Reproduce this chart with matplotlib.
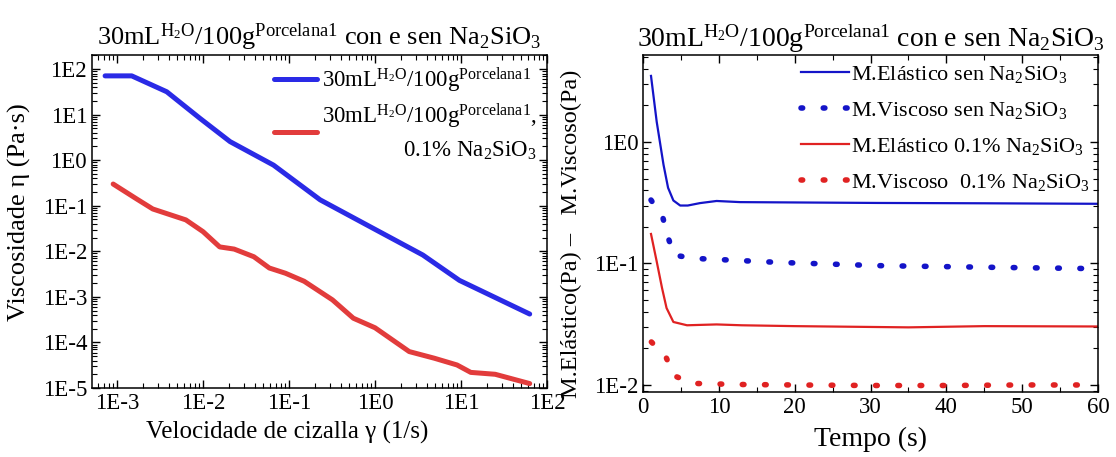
import numpy as np
import matplotlib
matplotlib.use("Agg")
import matplotlib.pyplot as plt
from matplotlib.ticker import LogLocator, FuncFormatter, MultipleLocator, NullFormatter

# left panel: viscosity vs shear rate
shear_sen = [7.25e-4, 1.48e-3, 3.78e-3, 9.2e-3, 2.06e-2, 6.6e-2, 0.23, 0.95, 3.6, 9.6, 63]
visc_sen = [71, 71, 31.8, 8.3, 2.56, 0.78, 0.135, 0.032, 0.0083, 0.0023, 4.2e-4]

shear_na = [9e-4, 1.7e-3, 2.6e-3, 6.3e-3, 1.0e-2, 1.56e-2, 2.3e-2, 3.9e-2, 5.9e-2, 9.1e-2,
            0.15, 0.32, 0.56, 1.0, 2.5, 4.9, 9.0, 13, 25, 63]
visc_na = [0.30, 0.14, 0.085, 0.049, 0.027, 0.0125, 0.0112, 0.0076, 0.0043, 0.0033,
           0.0022, 8.6e-4, 3.4e-4, 2.1e-4, 6.3e-5, 4.5e-5, 3.2e-5, 2.2e-5, 2.0e-5, 1.25e-5]

# right panel: moduli vs time
t_el_sen = [1.05, 1.8, 2.7, 3.3, 4.0, 4.9, 5.9, 7.5, 9.7, 12.8, 20, 31, 45, 60]
el_sen = [3.5, 1.47, 0.65, 0.42, 0.33, 0.30, 0.30, 0.314, 0.327, 0.32, 0.318, 0.315, 0.313, 0.31]

t_vi_sen = [1.05, 2.6, 3.3, 4.1, 6.9, 9.7, 12.4, 18, 31, 46, 58]
vi_sen = [0.333, 0.24, 0.164, 0.117, 0.110, 0.108, 0.106, 0.102, 0.096, 0.093, 0.091]

t_el_na = [1.05, 1.8, 2.5, 3.1, 4.0, 5.8, 9.7, 13, 20, 35, 45, 60]
el_na = [0.175, 0.104, 0.063, 0.043, 0.033, 0.031, 0.0315, 0.031, 0.0305, 0.0298, 0.0305, 0.0303]

t_vi_na = [1.1, 3.0, 4.1, 6.6, 9.5, 12.2, 20, 30, 40, 50, 57.5]
vi_na = [0.0226, 0.0171, 0.0119, 0.0103, 0.0102, 0.0101, 0.0100, 0.0099, 0.0099, 0.0100, 0.0100]

plt.rcParams["font.family"] = "Liberation Serif"
plt.rcParams["mathtext.fontset"] = "custom"
plt.rcParams["mathtext.rm"] = "Liberation Serif"
plt.rcParams["mathtext.it"] = "Liberation Serif:italic"
plt.rcParams["mathtext.default"] = "regular"

BLUE_L = "#2a2ae6"
RED_L = "#e23c3c"
BLUE_R = "#1414c8"
RED_R = "#e02222"

title = r"30mL$^{H_2O}$/100g$^{Porcelana1}$ con e sen Na$_2$SiO$_3$"


def sci_fmt(v, pos):
    return "1E%d" % int(round(np.log10(v)))


def style_ticks(ax, size):
    ax.tick_params(which="both", direction="in", top=True, right=True, labelsize=size)
    ax.tick_params(which="major", length=6, width=1)
    ax.tick_params(which="minor", length=3.5, width=0.8)
    for s in ax.spines.values():
        s.set_linewidth(1.1)


fig = plt.figure(figsize=(11.16, 4.57), dpi=100)
fig.patch.set_facecolor("white")

# ---- left panel ----
ax1 = fig.add_axes([0.0824, 0.151, 0.4077, 0.7287])
ax1.plot(shear_sen, visc_sen, color=BLUE_L, lw=3.6, solid_capstyle="round",
         solid_joinstyle="round", label=r"30mL$^{H_2O}$/100g$^{Porcelana1}$")
ax1.plot(shear_na, visc_na, color=RED_L, lw=3.6, solid_capstyle="round",
         solid_joinstyle="round",
         label="30mL$^{H_2O}$/100g$^{Porcelana1}$,\n0.1% Na$_2$SiO$_3$")
ax1.set_xscale("log")
ax1.set_yscale("log")
ax1.set_xlim(5.1e-4, 1e2)
ax1.set_ylim(1e-5, 10 ** 2.31)
ax1.xaxis.set_major_locator(LogLocator(base=10, numticks=20))
ax1.yaxis.set_major_locator(LogLocator(base=10, numticks=20))
ax1.xaxis.set_minor_locator(LogLocator(base=10, subs=np.arange(2, 10), numticks=20))
ax1.yaxis.set_minor_locator(LogLocator(base=10, subs=np.arange(2, 10), numticks=20))
ax1.xaxis.set_major_formatter(FuncFormatter(sci_fmt))
ax1.yaxis.set_major_formatter(FuncFormatter(sci_fmt))
ax1.xaxis.set_minor_formatter(NullFormatter())
ax1.yaxis.set_minor_formatter(NullFormatter())
style_ticks(ax1, 16.5)
ax1.set_xlabel("Velocidade de cizalla γ (1/s)", fontsize=18)
ax1.xaxis.set_label_coords(0.43, -0.1)
ax1.set_ylabel("Viscosidade η (Pa·s)", fontsize=19)
ax1.yaxis.set_label_coords(-0.135, 0.528)
ax1.set_title(title, fontsize=19, pad=7)
leg1 = ax1.legend(loc="upper right", frameon=False, fontsize=16.5, handlelength=1.9,
                  handletextpad=0.2, borderaxespad=0.05, labelspacing=0.3)
leg1.get_texts()[1].set_multialignment("right")
leg1.get_texts()[1].set_linespacing(1.5)

# ---- right panel ----
ax2 = fig.add_axes([0.5762, 0.1422, 0.4077, 0.7374])
ax2.plot(t_el_sen, el_sen, color=BLUE_R, lw=1.6, label="M.Elástico sen Na$_2$SiO$_3$")
ax2.plot(t_vi_sen, vi_sen, color=BLUE_R, lw=4.0, linestyle=(0, (0.3, 3.7)),
         dash_capstyle="round", label="M.Viscoso sen Na$_2$SiO$_3$")
ax2.plot(t_el_na, el_na, color=RED_R, lw=1.6, label="M.Elástico 0.1% Na$_2$SiO$_3$")
ax2.plot(t_vi_na, vi_na, color=RED_R, lw=4.0, linestyle=(0, (0.3, 3.7)),
         dash_capstyle="round", label="M.Viscoso  0.1% Na$_2$SiO$_3$")
ax2.set_yscale("log")
ax2.set_xlim(0, 60)
ax2.set_ylim(10 ** -2.058, 10 ** 0.716)
ax2.xaxis.set_major_locator(MultipleLocator(10))
ax2.xaxis.set_minor_locator(MultipleLocator(5))
ax2.yaxis.set_major_locator(LogLocator(base=10, numticks=20))
ax2.yaxis.set_minor_locator(LogLocator(base=10, subs=np.arange(2, 10), numticks=20))
ax2.yaxis.set_major_formatter(FuncFormatter(sci_fmt))
ax2.yaxis.set_minor_formatter(NullFormatter())
style_ticks(ax2, 16.5)
ax2.set_xlabel("Tempo (s)", fontsize=20)
ax2.xaxis.set_label_coords(0.5, -0.104)
ax2.set_ylabel("M.Elástico(Pa) –   M.Viscoso(Pa)", fontsize=17.5)
ax2.yaxis.set_label_coords(-0.134, 0.47)
ax2.set_title(title, fontsize=20, pad=6)
ax2.legend(loc="upper right", frameon=False, fontsize=16, handlelength=2.15,
           handletextpad=0.1, borderaxespad=0.0, labelspacing=0.68)

fig.savefig("out.png", dpi=100, facecolor="white")
